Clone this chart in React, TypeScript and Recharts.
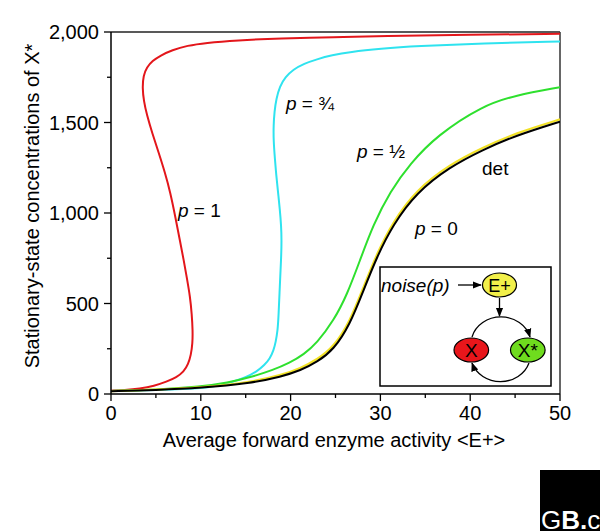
import React from "react";
import { LineChart, Line, XAxis, YAxis, ReferenceLine } from "recharts";

// Curves, each point ordered along the curve
const p1 = [
  { x: 0, y: 18 }, { x: 1.5, y: 22 }, { x: 3.2, y: 30 }, { x: 4.8, y: 44 },
  { x: 6.2, y: 68 }, { x: 7.3, y: 92 }, { x: 8.1, y: 123 }, { x: 8.6, y: 165 },
  { x: 8.9, y: 215 }, { x: 9.08, y: 280 }, { x: 9.1, y: 350 }, { x: 9.0, y: 440 },
  { x: 8.8, y: 540 }, { x: 8.45, y: 640 }, { x: 8.1, y: 740 }, { x: 7.7, y: 840 },
  { x: 7.2, y: 970 }, { x: 6.6, y: 1115 }, { x: 6.0, y: 1225 }, { x: 5.3, y: 1335 },
  { x: 4.6, y: 1440 }, { x: 4.0, y: 1540 }, { x: 3.65, y: 1620 }, { x: 3.5, y: 1690 },
  { x: 3.6, y: 1760 }, { x: 4.0, y: 1805 }, { x: 4.6, y: 1840 }, { x: 5.5, y: 1870 },
  { x: 6.8, y: 1900 }, { x: 8.5, y: 1925 }, { x: 10.5, y: 1940 }, { x: 14, y: 1954 },
  { x: 18.8, y: 1965 }, { x: 25, y: 1972 }, { x: 30, y: 1977 }, { x: 40, y: 1985 },
  { x: 50, y: 1990 },
];
const p34 = [
  { x: 0, y: 17 }, { x: 3, y: 19 }, { x: 6, y: 23 }, { x: 8, y: 27 },
  { x: 9.9, y: 31 }, { x: 12, y: 45 }, { x: 13.6, y: 68 }, { x: 15, y: 92 },
  { x: 16.2, y: 123 }, { x: 17.1, y: 160 }, { x: 17.7, y: 197 }, { x: 18.1, y: 240 },
  { x: 18.35, y: 289 }, { x: 18.55, y: 350 }, { x: 18.65, y: 420 }, { x: 18.8, y: 600 },
  { x: 18.95, y: 750 }, { x: 19.0, y: 850 }, { x: 18.95, y: 930 }, { x: 18.8, y: 1020 },
  { x: 18.6, y: 1116 }, { x: 18.4, y: 1210 }, { x: 18.25, y: 1300 }, { x: 18.1, y: 1400 },
  { x: 18.1, y: 1484 }, { x: 18.2, y: 1560 }, { x: 18.4, y: 1630 }, { x: 18.8, y: 1700 },
  { x: 19.4, y: 1750 }, { x: 20.3, y: 1793 }, { x: 21.5, y: 1825 }, { x: 22.9, y: 1849 },
  { x: 24.6, y: 1872 }, { x: 26.6, y: 1890 }, { x: 30, y: 1908 }, { x: 34, y: 1922 },
  { x: 41.4, y: 1937 }, { x: 50, y: 1948 },
];
const p12 = [
  { x: 0, y: 16 }, { x: 5, y: 24 }, { x: 10, y: 40 }, { x: 13, y: 62 },
  { x: 15.5, y: 92 }, { x: 18, y: 132 }, { x: 19.9, y: 172 }, { x: 21.5, y: 220 },
  { x: 22.9, y: 280 }, { x: 24.8, y: 405 }, { x: 26.3, y: 550 }, { x: 27.7, y: 735 },
  { x: 29.2, y: 935 }, { x: 31.1, y: 1120 }, { x: 33.3, y: 1272 }, { x: 36.3, y: 1429 },
  { x: 41.4, y: 1594 }, { x: 45, y: 1650 }, { x: 50, y: 1695 },
];
const p0 = [
  { x: 0, y: 16 }, { x: 5, y: 24 }, { x: 10, y: 36 }, { x: 15.5, y: 64 },
  { x: 19, y: 105 }, { x: 21.1, y: 142 }, { x: 23, y: 192 }, { x: 24.8, y: 260 },
  { x: 26.6, y: 400 }, { x: 28.1, y: 588 }, { x: 29.6, y: 775 }, { x: 31.4, y: 952 },
  { x: 34.0, y: 1128 }, { x: 37.7, y: 1268 }, { x: 41.4, y: 1362 }, { x: 45, y: 1440 },
  { x: 50, y: 1517 },
];
const det = [
  { x: 0, y: 15 }, { x: 5, y: 22 }, { x: 10, y: 33 }, { x: 15.5, y: 59 },
  { x: 19, y: 96 }, { x: 21.1, y: 130 }, { x: 23, y: 178 }, { x: 24.8, y: 245 },
  { x: 26.6, y: 383 }, { x: 28.1, y: 570 }, { x: 29.6, y: 757 }, { x: 31.4, y: 935 },
  { x: 34.0, y: 1112 }, { x: 37.7, y: 1254 }, { x: 41.4, y: 1349 }, { x: 45, y: 1427 },
  { x: 50, y: 1505 },
];

const xTicks = [0, 5, 10, 15, 20, 25, 30, 35, 40, 45, 50];
const yTicks = [0, 250, 500, 750, 1000, 1250, 1500, 1750, 2000];

const FONT = '"Liberation Sans", Arial, Helvetica, sans-serif';

const fmtY = (v: number) => (v % 500 === 0 ? v.toLocaleString("en-US") : "");

function XTick(props: any) {
  const { x, y, payload } = props;
  const major = payload.value % 10 === 0;
  return (
    <g>
      <line x1={x} y1={y} x2={x} y2={y + (major ? 7 : 4)} stroke="#000" strokeWidth={1.3} />
      {major && (
        <text x={x} y={y + 26} textAnchor="middle" fontSize={20} fontFamily={FONT} fill="#000">
          {payload.value}
        </text>
      )}
    </g>
  );
}

function YTick(props: any) {
  const { x, y, payload } = props;
  const major = payload.value % 500 === 0;
  return (
    <g>
      <line x1={x - (major ? 7 : 4)} y1={y} x2={x} y2={y} stroke="#000" strokeWidth={1.3} />
      {major && (
        <text x={x - 12} y={y + 7} textAnchor="end" fontSize={20} fontFamily={FONT} fill="#000">
          {fmtY(payload.value)}
        </text>
      )}
    </g>
  );
}

function PLabel({ x, y, v }: { x: number; y: number; v: string }) {
  return (
    <text x={x} y={y} fontSize={19} fontFamily={FONT} fill="#000">
      <tspan fontStyle="italic">p</tspan>
      <tspan>{" = " + v}</tspan>
    </text>
  );
}

export default function App() {
  return (
    <div style={{ position: "absolute", left: 0, top: 0, width: 600, height: 531, background: "#fff" }}>
      <LineChart width={600} height={531} margin={{ top: 32, right: 40, left: 0, bottom: 0 }}>
        <XAxis
          type="number"
          dataKey="x"
          domain={[0, 50]}
          ticks={xTicks}
          height={137}
          tickSize={0}
          tickMargin={0}
          tick={<XTick />}
          axisLine={{ stroke: "#000", strokeWidth: 1.5 }}
          allowDataOverflow
        />
        <YAxis
          type="number"
          dataKey="y"
          domain={[0, 2000]}
          ticks={yTicks}
          width={111}
          tickSize={0}
          tickMargin={0}
          tick={<YTick />}
          axisLine={{ stroke: "#000", strokeWidth: 1.5 }}
          allowDataOverflow
        />
        <ReferenceLine y={2000} stroke="#222" strokeWidth={1.5} />
        <ReferenceLine x={50} stroke="#333" strokeWidth={1.5} />
        <Line data={p1} dataKey="y" type="basis" stroke="#e3161b" strokeWidth={2} dot={false} isAnimationActive={false} />
        <Line data={p34} dataKey="y" type="basis" stroke="#2fe3ef" strokeWidth={2} dot={false} isAnimationActive={false} />
        <Line data={p12} dataKey="y" type="basis" stroke="#2ee02e" strokeWidth={2} dot={false} isAnimationActive={false} />
        <Line data={p0} dataKey="y" type="basis" stroke="#f2e227" strokeWidth={2.2} dot={false} isAnimationActive={false} />
        <Line data={det} dataKey="y" type="basis" stroke="#000" strokeWidth={2} dot={false} isAnimationActive={false} />
      </LineChart>

      <svg width={600} height={531} style={{ position: "absolute", left: 0, top: 0, pointerEvents: "none" }}>
        <defs>
          <marker id="ah" viewBox="0 0 10 10" refX="9" refY="5" markerWidth="7" markerHeight="7" orient="auto">
            <path d="M0,1 L10,5 L0,9 z" fill="#000" />
          </marker>
        </defs>
        <text transform="translate(39,206) rotate(-90)" textAnchor="middle" fontSize={20} fontFamily={FONT} fill="#000">
          Stationary-state concentrations of X*
        </text>
        <text x={334} y={447} textAnchor="middle" fontSize={20} fontFamily={FONT} fill="#000">
          Average forward enzyme activity &lt;E+&gt;
        </text>

        <PLabel x={178} y={217} v="1" />
        <PLabel x={286} y={110} v="¾" />
        <PLabel x={357} y={158} v="½" />
        <PLabel x={415} y={235} v="0" />
        <text x={482} y={175} fontSize={19} fontFamily={FONT} fill="#000">det</text>

        {/* inset diagram */}
        <rect x={380} y={267} width={171} height={119} fill="#fff" stroke="#000" strokeWidth={1.5} />
        <text x={381} y={292} fontSize={19} fontStyle="italic" fontFamily={FONT} fill="#000">noise(p)</text>
        <line x1={458} y1={285} x2={481} y2={285} stroke="#000" strokeWidth={1.3} markerEnd="url(#ah)" />
        <ellipse cx={499.5} cy={285} rx={17} ry={12} fill="#f2f04a" stroke="#000" strokeWidth={1.2} />
        <text x={499.5} y={291.5} textAnchor="middle" fontSize={18} fontFamily={FONT} fill="#000">E+</text>
        <line x1={499.5} y1={298} x2={499.5} y2={316} stroke="#000" strokeWidth={1.3} markerEnd="url(#ah)" />
        <path d="M 472 337 A 30 27 0 0 1 530 337" fill="none" stroke="#000" strokeWidth={1.3} markerEnd="url(#ah)" />
        <path d="M 529 363 A 30 27 0 0 1 472 363" fill="none" stroke="#000" strokeWidth={1.3} markerEnd="url(#ah)" />
        <ellipse cx={471.3} cy={350} rx={17.3} ry={12} fill="#e8161b" stroke="#000" strokeWidth={1.2} />
        <text x={471.3} y={357} textAnchor="middle" fontSize={19} fontFamily={FONT} fill="#000">X</text>
        <ellipse cx={527.8} cy={350} rx={17.3} ry={12} fill="#6fdc1e" stroke="#000" strokeWidth={1.2} />
        <text x={527.8} y={357} textAnchor="middle" fontSize={19} fontFamily={FONT} fill="#000">X*</text>

        {/* corner logo */}
        <rect x={540} y={470} width={60} height={61} fill="#000" />
        <text x={541} y={529} fontSize={26} fontFamily={FONT} fill="#fff">
          <tspan fontWeight={300}>G</tspan>
          <tspan fontWeight="bold">B.</tspan>
          <tspan>c</tspan>
        </text>
      </svg>
    </div>
  );
}
